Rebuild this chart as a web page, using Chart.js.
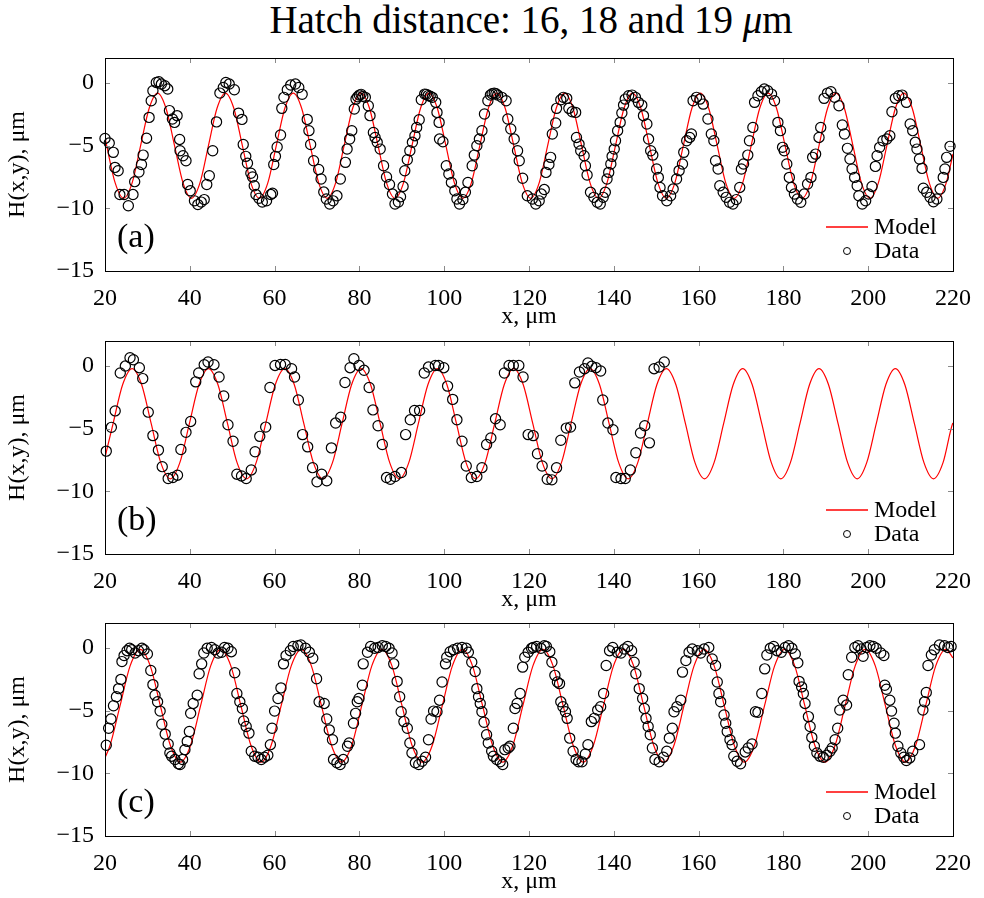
<!DOCTYPE html>
<html><head><meta charset="utf-8">
<script src="https://cdn.jsdelivr.net/npm/chart.js"></script>
<style>
html,body{margin:0;padding:0;background:#fff;}
body{width:984px;height:898px;position:relative;overflow:hidden;}
#title{position:absolute;left:0;width:1062px;top:1px;text-align:center;font-family:'Liberation Serif','Times New Roman',serif;font-size:39px;line-height:38px;color:#000;white-space:nowrap;}
canvas{position:absolute;left:0;}
</style></head><body>
<div id="title">Hatch distance: 16, 18 and 19 <i>μ</i>m</div>
<canvas id="ca" width="984" height="331" style="top:0px"></canvas>
<canvas id="cb" width="984" height="331" style="top:283px"></canvas>
<canvas id="cc" width="984" height="331" style="top:565px"></canvas>
<script>
// ---- axis ticks / labels ----
const xTickVals = [20, 40, 60, 80, 100, 120, 140, 160, 180, 200, 220];
const yTickVals = [0, -5, -10, -15];
const panelLabels = ['(a)', '(b)', '(c)'];
const seriesNames = ['Model', 'Data'];
const xTitle = 'x, μm';
const yTitle = 'H(x,y), μm';

// ---- Model curves ----
const modelAX = [20, 20.4, 22.4, 24.4, 26.4, 28.4, 30.4, 32.4, 34.4, 36.4, 38.4, 40.4, 42.4, 44.4, 46.4, 48.4, 50.4, 52.4, 54.4, 56.4, 58.4, 60.4, 62.4, 64.4, 66.4, 68.4, 70.4, 72.4, 74.4, 76.4, 78.4, 80.4, 82.4, 84.4, 86.4, 88.4, 90.4, 92.4, 94.4, 96.4, 98.4, 100.4, 102.4, 104.4, 106.4, 108.4, 110.4, 112.4, 114.4, 116.4, 118.4, 120.4, 122.4, 124.4, 126.4, 128.4, 130.4, 132.4, 134.4, 136.4, 138.4, 140.4, 142.4, 144.4, 146.4, 148.4, 150.4, 152.4, 154.4, 156.4, 158.4, 160.4, 162.4, 164.4, 166.4, 168.4, 170.4, 172.4, 174.4, 176.4, 178.4, 180.4, 182.4, 184.4, 186.4, 188.4, 190.4, 192.4, 194.4, 196.4, 198.4, 200.4, 202.4, 204.4, 206.4, 208.4, 210.4, 212.4, 214.4, 216.4, 218.4, 220];
const modelAY = [-4.34,
 -5, -7.97, -9.2, -7.97, -5, -2.03, -0.8, -2.03,
 -5, -7.97, -9.2, -7.97, -5, -2.03, -0.8, -2.03,
 -5, -7.97, -9.2, -7.97, -5, -2.03, -0.8, -2.03,
 -5, -7.97, -9.2, -7.97, -5, -2.03, -0.8, -2.03,
 -5, -7.97, -9.2, -7.97, -5, -2.03, -0.8, -2.03,
 -5, -7.97, -9.2, -7.97, -5, -2.03, -0.8, -2.03,
 -5, -7.97, -9.2, -7.97, -5, -2.03, -0.8, -2.03,
 -5, -7.97, -9.2, -7.97, -5, -2.03, -0.8, -2.03,
 -5, -7.97, -9.2, -7.97, -5, -2.03, -0.8, -2.03,
 -5, -7.97, -9.2, -7.97, -5, -2.03, -0.8, -2.03,
 -5, -7.97, -9.2, -7.97, -5, -2.03, -0.8, -2.03,
 -5, -7.97, -9.2, -7.97, -5, -2.03, -0.8, -2.03,
 -5, -7.97, -9.2, -7.97,
 -5.66];

const modelBX = [20, 21.9, 24.15, 26.4, 28.65, 30.9, 33.15, 35.4, 37.65, 39.9, 42.15, 44.4, 46.65, 48.9, 51.15, 53.4, 55.65, 57.9, 60.15, 62.4, 64.65, 66.9, 69.15, 71.4, 73.65, 75.9, 78.15, 80.4, 82.65, 84.9, 87.15, 89.4, 91.65, 93.9, 96.15, 98.4, 100.65, 102.9, 105.15, 107.4, 109.65, 111.9, 114.15, 116.4, 118.65, 120.9, 123.15, 125.4, 127.65, 129.9, 132.15, 134.4, 136.65, 138.9, 141.15, 143.4, 145.65, 147.9, 150.15, 152.4, 154.65, 156.9, 159.15, 161.4, 163.65, 165.9, 168.15, 170.4, 172.65, 174.9, 177.15, 179.4, 181.65, 183.9, 186.15, 188.4, 190.65, 192.9, 195.15, 197.4, 199.65, 201.9, 204.15, 206.4, 208.65, 210.9, 213.15, 215.4, 217.65, 219.9, 220];
const modelBY = [-7.3,
 -4.6, -1.49, -0.2, -1.49, -4.6, -7.71, -9.0, -7.71,
 -4.6, -1.49, -0.2, -1.49, -4.6, -7.71, -9.0, -7.71,
 -4.6, -1.49, -0.2, -1.49, -4.6, -7.71, -9.0, -7.71,
 -4.6, -1.49, -0.2, -1.49, -4.6, -7.71, -9.0, -7.71,
 -4.6, -1.49, -0.2, -1.49, -4.6, -7.71, -9.0, -7.71,
 -4.6, -1.49, -0.2, -1.49, -4.6, -7.71, -9.0, -7.71,
 -4.6, -1.49, -0.2, -1.49, -4.6, -7.71, -9.0, -7.71,
 -4.6, -1.49, -0.2, -1.49, -4.6, -7.71, -9.0, -7.71,
 -4.6, -1.49, -0.2, -1.49, -4.6, -7.71, -9.0, -7.71,
 -4.6, -1.49, -0.2, -1.49, -4.6, -7.71, -9.0, -7.71,
 -4.6, -1.49, -0.2, -1.49, -4.6, -7.71, -9.0, -7.71,
 -4.6,
 -4.55];

const modelCX = [20, 21.175, 23.55, 25.925, 28.3, 30.675, 33.05, 35.425, 37.8, 40.175, 42.55, 44.925, 47.3, 49.675, 52.05, 54.425, 56.8, 59.175, 61.55, 63.925, 66.3, 68.675, 71.05, 73.425, 75.8, 78.175, 80.55, 82.925, 85.3, 87.675, 90.05, 92.425, 94.8, 97.175, 99.55, 101.925, 104.3, 106.675, 109.05, 111.425, 113.8, 116.175, 118.55, 120.925, 123.3, 125.675, 128.05, 130.425, 132.8, 135.175, 137.55, 139.925, 142.3, 144.675, 147.05, 149.425, 151.8, 154.175, 156.55, 158.925, 161.3, 163.675, 166.05, 168.425, 170.8, 173.175, 175.55, 177.925, 180.3, 182.675, 185.05, 187.425, 189.8, 192.175, 194.55, 196.925, 199.3, 201.675, 204.05, 206.425, 208.8, 211.175, 213.55, 215.925, 218.3, 220];
const modelCY = [-8.75, -7.78,
 -4.6, -1.42, -0.1, -1.42, -4.6, -7.78, -9.1, -7.78,
 -4.6, -1.42, -0.1, -1.42, -4.6, -7.78, -9.1, -7.78,
 -4.6, -1.42, -0.1, -1.42, -4.6, -7.78, -9.1, -7.78,
 -4.6, -1.42, -0.1, -1.42, -4.6, -7.78, -9.1, -7.78,
 -4.6, -1.42, -0.1, -1.42, -4.6, -7.78, -9.1, -7.78,
 -4.6, -1.42, -0.1, -1.42, -4.6, -7.78, -9.1, -7.78,
 -4.6, -1.42, -0.1, -1.42, -4.6, -7.78, -9.1, -7.78,
 -4.6, -1.42, -0.1, -1.42, -4.6, -7.78, -9.1, -7.78,
 -4.6, -1.42, -0.1, -1.42, -4.6, -7.78, -9.1, -7.78,
 -4.6, -1.42, -0.1, -1.42, -4.6, -7.78, -9.1, -7.78,
 -4.6, -1.42, -0.1,
 -0.79];

// ---- Measured data (x, H) read from the circles ----
const dataA = [[20.0,-4.42],[21.0,-4.79],[21.96,-5.53],[22.35,-6.73],[23.1,-7.0],[23.5,-8.9],[24.5,-8.9],[25.5,-9.79],[26.6,-8.9],[27.0,-7.87],[28.0,-7.1],[28.6,-6.5],[29.0,-5.75],[29.8,-4.4],[30.4,-2.74],[30.9,-1.41],[31.3,-0.61],[32.1,0.05],[32.7,0.1],[33.3,-0.08],[34.1,-0.21],[34.8,-0.48],[35.2,-2.2],[35.9,-2.87],[36.4,-3.14],[37.0,-2.6],[37.6,-4.5],[37.7,-5.4],[38.4,-5.8],[39.1,-6.2],[39.5,-8.1],[40.1,-8.6],[41.1,-9.4],[41.9,-9.7],[42.7,-9.5],[43.4,-9.3],[44.0,-8.1],[44.6,-7.4],[45.4,-5.4],[46.3,-3.1],[47.1,-0.8],[47.9,-0.35],[48.5,0.05],[49.3,-0.08],[50.5,-0.53],[51.5,-2.4],[52.3,-2.9],[52.6,-4.9],[53.2,-5.85],[53.6,-6.4],[54.4,-7.2],[54.8,-7.5],[55.2,-8.2],[55.6,-8.9],[56.3,-9.2],[57.1,-9.5],[58.1,-9.4],[59.1,-8.9],[59.5,-8.8],[59.8,-6.5],[60.2,-5.85],[60.6,-5.1],[61.4,-4.15],[61.7,-2.02],[62.2,-1.14],[63.0,-0.53],[63.8,-0.16],[64.9,-0.08],[65.7,-0.35],[66.5,-0.9],[67.7,-2.9],[68.1,-3.8],[68.5,-4.9],[69.2,-6.2],
[70.4,-6.9],[70.96,-7.66],[71.6,-8.7],[72.2,-9.25],[73.0,-9.65],[73.8,-9.4],[74.7,-9.0],[75.5,-7.66],[76.7,-6.33],[77.1,-5.27],[77.7,-4.47],[78.2,-3.8],[78.8,-2.07],[79.2,-1.28],[79.6,-1.1],[80.0,-0.96],[80.4,-0.9],[80.8,-1.06],[81.4,-1.14],[82.1,-1.81],[82.5,-2.6],[83.3,-3.94],[83.7,-4.34],[84.2,-4.73],[84.9,-5.27],[85.7,-6.6],[86.4,-7.5],[87.1,-8.1],[87.8,-8.86],[88.4,-9.65],[89.2,-9.5],[89.7,-9.07],[90.3,-8.25],[90.7,-7.0],[91.3,-6.12],[91.9,-5.4],[92.5,-4.73],[93.1,-4.2],[93.5,-3.54],[94.1,-2.93],[94.6,-1.33],[95.4,-0.88],[95.8,-0.9],[96.2,-1.0],[96.7,-1.05],[97.2,-1.14],[98.0,-1.54],[98.3,-2.34],[98.8,-3.14],[98.9,-4.47],[99.7,-4.68],[100.5,-6.6],[101.1,-7.26],[101.7,-7.93],[102.5,-8.6],[103.0,-9.25],[103.6,-9.65],[104.4,-9.3],[105.0,-8.72],[105.6,-7.93],[106.6,-6.6],[107.1,-5.75],[107.7,-5.0],[108.3,-4.47],[108.9,-3.8],[109.5,-2.47],[110.3,-1.41],[110.9,-0.96],[111.3,-0.85],[111.8,-0.8],[112.2,-0.85],[112.6,-0.96],[113.6,-1.14],[114.6,-1.41],[115.0,-2.87],[115.7,-3.67],[116.5,-4.47],[117.3,-5.4],[117.7,-6.2],[118.5,-7.6],[119.6,-9.0],
[120.8,-9.25],[121.6,-9.65],[122.4,-9.4],[122.9,-8.86],[123.6,-8.5],[124.0,-7.13],[124.7,-6.5],[125.1,-5.93],[125.5,-4.07],[126.3,-3.19],[126.5,-2.02],[127.5,-1.33],[128.1,-1.14],[128.9,-1.22],[129.4,-2.02],[130.2,-2.29],[131.0,-2.34],[131.2,-4.34],[131.8,-4.87],[132.2,-5.4],[133.0,-5.8],[133.3,-6.6],[133.7,-7.34],[134.5,-8.72],[135.3,-9.12],[136.1,-9.52],[136.8,-9.65],[137.5,-9.12],[138.0,-8.72],[138.4,-7.66],[138.8,-7.13],[139.3,-6.46],[139.6,-5.85],[140.1,-5.27],[140.4,-4.6],[140.9,-3.8],[141.5,-3.14],[141.9,-2.39],[142.3,-1.76],[142.7,-1.28],[143.5,-1.01],[144.3,-0.96],[145.1,-1.14],[145.8,-1.54],[146.6,-1.76],[147.0,-2.6],[147.8,-3.27],[148.2,-4.47],[148.7,-5.4],[149.2,-5.75],[150.1,-6.86],[150.5,-7.53],[150.9,-8.33],[151.5,-8.99],[152.5,-9.39],[153.4,-8.99],[154.0,-8.46],[154.8,-7.66],[155.4,-6.99],[156.2,-6.46],[156.5,-5.53],[157.2,-4.6],[157.9,-4.34],[158.3,-4.07],[158.7,-1.41],[159.5,-1.14],[160.3,-1.28],[161.1,-1.68],[162.2,-2.87],[163.0,-4.07],[163.6,-4.6],[164.0,-6.2],[164.6,-6.86],[165.0,-8.2],[165.8,-8.72],[166.5,-9.12],[167.3,-9.52],[168.1,-9.65],[168.9,-9.3],[169.7,-8.33],[170.1,-6.86],[170.6,-6.46],
[171.6,-5.75],[172.0,-4.6],[172.8,-3.54],[173.2,-1.54],[174.0,-1.01],[174.8,-0.69],[175.5,-0.48],[176.3,-0.61],[177.2,-0.88],[177.9,-1.41],[178.7,-3.14],[179.3,-3.8],[179.8,-5.13],[180.2,-5.4],[180.8,-6.46],[181.4,-7.53],[181.9,-8.33],[182.6,-8.86],[183.3,-9.25],[184.1,-9.52],[184.9,-8.86],[185.7,-8.06],[186.5,-7.53],[186.9,-5.93],[187.6,-5.67],[188.4,-4.34],[188.8,-3.54],[189.6,-1.22],[190.4,-0.8],[191.2,-0.69],[192.1,-1.14],[193.1,-1.81],[193.9,-3.35],[194.4,-4.07],[195.1,-5.21],[195.7,-6.06],[196.2,-6.86],[196.8,-7.53],[197.4,-8.2],[197.8,-8.99],[198.6,-9.65],[199.4,-9.39],[200.1,-8.86],[200.9,-8.25],[201.7,-6.65],[202.1,-5.8],[202.7,-5.13],[203.5,-4.6],[204.4,-4.47],[205.1,-4.2],[205.6,-2.29],[206.4,-1.22],[207.2,-1.01],[208.0,-0.96],[209.0,-1.54],[209.9,-3.27],[210.5,-3.8],[211.1,-4.73],[211.5,-5.27],[212.1,-6.06],[212.7,-6.81],[213.0,-8.4],[213.8,-8.72],[214.6,-9.12],[215.4,-9.47],[216.2,-9.25],[216.97,-8.46],[217.7,-7.53],[218.1,-6.86],[218.5,-5.93],[219.3,-5.05]];

const dataB = [[20.3,-6.79],[21.5,-4.89],[22.4,-3.58],[23.6,-0.55],[24.8,0.0],[25.9,0.66],[26.7,0.5],[28.1,-0.13],[28.9,-1.0],[30.2,-3.68],[31.3,-5.55],[32.6,-6.71],[33.5,-8.03],[34.9,-8.98],[36.0,-8.9],[37.1,-8.71],[37.9,-6.66],[39.1,-5.29],[40.2,-4.42],[41.4,-1.26],[42.1,-0.55],[43.4,0.11],[44.3,0.32],[45.7,0.11],[46.9,-0.87],[48.0,-2.39],[49.0,-4.68],[50.2,-6.0],[51.1,-8.63],[52.2,-8.77],[53.3,-8.98],[54.5,-8.29],[55.4,-6.84],[56.5,-5.61],[57.9,-4.87],[58.9,-1.71],[60.1,0.05],[61.4,0.13],[62.5,0.13],
[64.0,-0.21],[64.7,-0.87],[65.6,-2.71],[66.6,-5.47],[67.8,-6.45],[68.96,-8.11],[70.0,-9.24],[71.1,-8.63],[72.3,-9.16],[73.4,-6.53],[74.4,-4.55],[75.6,-4.08],[76.6,-1.31],[77.8,-0.13],[78.7,0.58],[79.9,0.05],[81.1,-0.34],[82.3,-1.71],[83.2,-3.5],[84.4,-4.76],[85.4,-6.26],[86.4,-8.9],[87.3,-9.03],[88.4,-8.82],[89.9,-8.5],[90.9,-5.47],[92.0,-4.29],[93.0,-3.55],[94.2,-3.55],[95.3,-0.55],[96.3,-0.08],[97.9,0.05],[98.7,0.05],[99.9,-0.13],[100.8,-1.6],[102.0,-2.66],[103.0,-4.29],[104.2,-6.0],[105.2,-7.98],[106.4,-8.9],
[107.7,-8.82],[108.9,-8.11],[110.0,-6.26],[111.0,-5.74],[112.1,-4.21],[113.2,-4.68],[114.2,-0.55],[115.3,0.05],[116.3,0.05],[117.6,0.05],[118.6,-0.87],[119.8,-5.47],[121.0,-5.55],[122.0,-7.0],[123.1,-7.98],[124.3,-9.03],[125.4,-9.08],[126.5,-8.11],[127.5,-5.92],[128.8,-4.95],[129.8,-4.87],[130.8,-1.34],[131.9,-0.47],[133.1,-0.21],[133.9,0.24],[134.8,-0.02],[135.8,-0.13],[136.9,-0.39],[137.4,-2.71],[138.6,-4.55],[139.8,-5.08],[140.5,-8.9],[141.7,-8.98],[142.7,-8.98],[143.9,-8.29],[145.2,-6.92],[146.3,-5.34],[147.3,-4.76],[148.4,-6.13],[149.5,-0.21],[150.7,-0.08],[151.9,0.32]];

const dataC = [[20.3,-7.76],[20.86,-6.4],[21.4,-5.66],[22.0,-4.6],[22.7,-3.89],[23.2,-3.24],[23.75,-2.5],[24.0,-1.08],[24.5,-0.6],[25.2,-0.21],[25.8,-0.02],[26.3,-0.13],[27.1,-0.39],[27.9,-0.21],[28.7,-0.02],[29.2,-0.13],[30.0,-0.47],[30.8,-1.79],[31.3,-2.92],[31.8,-3.76],[32.4,-4.29],[33.0,-5.03],[33.4,-6.08],[34.2,-6.87],[34.9,-7.66],[35.3,-8.37],[35.7,-8.63],[36.5,-8.9],[37.3,-9.24],[37.7,-9.29],[38.3,-8.9],[38.85,-8.11],[39.4,-7.45],[39.9,-6.66],[40.2,-5.21],[40.8,-4.42],[41.75,-3.76],[42.2,-2.05],[42.8,-1.26],[43.3,-0.39],[44.1,-0.02],[45.1,0.05],[45.9,-0.13],[46.7,-0.39],[47.5,-0.34],[48.2,0.05],[49.0,-0.02],[49.8,-0.29],[50.6,-1.97],[51.1,-3.63],[51.8,-4.29],[52.4,-4.82],[52.7,-5.82],[53.3,-6.26],[53.95,-6.79],[54.5,-8.24],[55.3,-8.63],[56.1,-8.71],[56.85,-8.9],[57.6,-8.71],[58.4,-8.55],[59.0,-7.71],[59.4,-6.4],[60.0,-5.03],[60.8,-4.03],[61.5,-3.18],[62.1,-1.26],[62.7,-0.6],[63.7,-0.21],[64.4,0.13],[65.5,0.19],[66.2,0.24],[67.3,-0.02],[68.2,-0.34],[69.0,-0.81],[69.9,-2.45],[70.5,-4.29],
[71.7,-4.42],[72.3,-5.66],[72.9,-6.53],[73.65,-7.32],[73.9,-8.9],[74.7,-9.16],[75.45,-9.29],[76.2,-8.9],[77.2,-7.84],[77.6,-7.58],[78.6,-6.0],[79.1,-5.21],[79.5,-4.29],[79.9,-4.03],[80.7,-2.97],[80.9,-1.26],[81.9,-0.34],[82.65,0.13],[83.6,-0.02],[84.4,0.05],[85.4,0.19],[86.2,0.13],[87.0,-0.02],[87.7,-0.39],[88.1,-1.26],[88.9,-2.66],[89.5,-3.89],[89.85,-5.08],[90.5,-5.87],[91.3,-6.4],[91.9,-7.58],[92.4,-8.37],[93.2,-9.16],[94.0,-9.29],[94.8,-9.03],[95.6,-8.71],[96.3,-7.32],[96.9,-5.66],[97.5,-5.03],[98.3,-5.08],[98.9,-4.16],[99.5,-2.71],[100.3,-1.26],[100.6,-0.73],[101.4,-0.29],[102.2,-0.13],[103.15,-0.02],[104.2,0.05],[105.2,-0.02],[105.7,-0.34],[106.5,-1.13],[107.3,-1.87],[107.7,-3.24],[108.1,-3.89],[108.5,-4.42],[108.9,-5.08],[109.4,-5.92],[110.0,-6.92],[110.4,-7.58],[111.2,-8.24],[111.6,-8.63],[112.4,-8.9],[113.2,-9.08],[113.8,-9.29],[114.3,-8.11],[115.1,-7.98],[115.5,-7.84],[116.3,-6.4],[116.7,-4.82],[117.2,-4.42],[117.9,-3.63],[118.5,-1.52],[119.0,-0.73],[119.8,-0.34],[120.6,-0.02],
[121.0,0.05],[121.8,0.13],[122.8,-0.02],[123.6,0.19],[124.1,0.13],[124.9,-0.29],[125.4,-1.13],[126.1,-2.18],[126.7,-2.71],[127.2,-2.84],[127.5,-4.29],[128.0,-4.68],[128.6,-5.08],[129.0,-5.61],[129.6,-7.19],[130.4,-8.24],[131.1,-8.9],[131.7,-9.08],[132.5,-9.08],[133.3,-8.45],[133.9,-7.71],[134.7,-5.87],[135.4,-5.61],[136.2,-4.95],[136.9,-4.68],[137.6,-3.63],[138.2,-1.39],[139.0,-0.21],[139.75,0.05],[140.8,-0.34],[141.7,-0.39],[142.5,-0.08],[143.3,0.13],[144.2,-0.21],[144.8,-1.13],[145.2,-2.05],[146.0,-3.24],[146.8,-4.03],[147.2,-4.82],[147.6,-5.61],[148.1,-6.26],[148.6,-6.92],[149.1,-7.98],[149.7,-8.9],[150.7,-9.08],[151.7,-8.71],[152.5,-8.24],[153.1,-7.19],[153.8,-6.4],[154.2,-5.08],[154.9,-4.68],[155.8,-4.16],[156.2,-1.92],[157.0,-1.0],[157.75,-0.34],[158.5,-0.08],[159.7,-0.21],[160.5,-0.39],[161.3,-0.08],[162.4,0.05],[163.2,-0.87],[164.0,-1.39],[164.4,-2.71],[164.8,-3.63],[165.2,-4.29],[166.0,-5.34],[166.4,-6.0],[166.75,-6.66],[167.4,-7.32],[167.9,-7.71],[168.3,-8.63],[169.1,-9.03],[169.9,-9.24],
[171.0,-8.29],[171.7,-7.98],[172.6,-7.66],[173.4,-5.08],[174.0,-5.13],[174.9,-3.63],[175.6,-1.66],[176.1,-0.55],[176.9,-0.02],[177.7,0.13],[178.5,-0.21],[179.5,-0.34],[180.4,0.05],[181.2,0.19],[182.0,-0.02],[182.8,-0.47],[183.4,-1.18],[183.7,-2.66],[184.3,-3.1],[184.7,-3.63],[185.1,-4.42],[185.9,-5.47],[186.3,-6.26],[186.7,-7.13],[187.3,-7.84],[187.9,-8.37],[188.6,-8.63],[189.4,-8.71],[190.2,-8.55],[191.0,-8.24],[191.5,-7.98],[192.2,-7.32],[192.8,-6.4],[193.3,-4.95],[194.1,-4.16],[194.9,-4.55],[195.3,-2.13],[196.1,-0.73],[196.85,0.05],[197.6,0.19],[198.3,-0.08],[198.8,-0.66],[199.6,0.05],[200.4,0.19],[201.2,0.13],[201.9,-0.02],[202.95,-0.39],[203.7,-0.6],[203.9,-2.97],[204.3,-3.29],[205.1,-4.16],[205.5,-5.03],[206.1,-6.0],[206.4,-6.79],[207.0,-7.84],[207.7,-8.37],[208.4,-8.71],[209.0,-8.98],[209.8,-8.77],[210.5,-8.24],[212.1,-7.71],[212.9,-4.95],[213.3,-4.29],[213.7,-3.55],[214.1,-1.39],[214.9,-0.55],[215.6,-0.13],[216.8,0.24],[218.0,0.19],[218.8,0.05],[219.55,0.13]];

// ---- rendering ----
const FONT = "'Liberation Serif', 'Times New Roman', serif";
const toXY = (xs, ys) => xs.map((x, i) => ({x: x, y: ys[i]}));
const fromPairs = p => p.map(([x, y]) => ({x: x, y: y}));
const fmt = v => (v < 0 ? '\u2212' + Math.abs(v) : String(v));

const decor = {
  id: 'decor',
  afterDraw(chart, args, opts) {
    const {ctx, chartArea: a, scales: {x, y}} = chart;
    ctx.save();
    ctx.lineWidth = 1;
    ctx.strokeStyle = '#8a8a8a';
    ctx.beginPath();
    const L = 5;
    xTickVals.forEach(v => {
      const px = Math.round(x.getPixelForValue(v)) + 0.5;
      ctx.moveTo(px, a.top); ctx.lineTo(px, a.top + L);
      ctx.moveTo(px, a.bottom); ctx.lineTo(px, a.bottom - L);
    });
    yTickVals.forEach(v => {
      const py = Math.round(y.getPixelForValue(v)) + 0.5;
      ctx.moveTo(a.left, py); ctx.lineTo(a.left + L, py);
      ctx.moveTo(a.right, py); ctx.lineTo(a.right - L, py);
    });
    ctx.stroke();
    ctx.strokeStyle = '#000';
    ctx.strokeRect(Math.round(a.left) + 0.5, Math.round(a.top) + 0.5, Math.round(a.right - a.left), Math.round(a.bottom - a.top));
    // legend
    const ly1 = a.bottom - 44, ly2 = a.bottom - 20;
    ctx.strokeStyle = '#ff0000';
    ctx.lineWidth = 1.5;
    ctx.beginPath(); ctx.moveTo(a.right - 127, ly1); ctx.lineTo(a.right - 85, ly1); ctx.stroke();
    ctx.strokeStyle = '#000';
    ctx.lineWidth = 1;
    ctx.beginPath(); ctx.arc(a.right - 106, ly2, 3.5, 0, Math.PI * 2); ctx.stroke();
    ctx.fillStyle = '#000';
    ctx.font = '24px ' + FONT;
    ctx.textAlign = 'left';
    ctx.textBaseline = 'middle';
    ctx.fillText(seriesNames[0], a.right - 79, ly1 + 1);
    ctx.fillText(seriesNames[1], a.right - 79, ly2 + 1);
    ctx.font = '34px ' + FONT;
    ctx.fillText(opts.label, a.left + 12, a.bottom - 33);
    ctx.restore();
  }
};

function makeChart(id, modelX, modelY, data, label) {
  return new Chart(document.getElementById(id), {
    type: 'scatter',
    data: {
      datasets: [
        {label: seriesNames[1], data: fromPairs(data), showLine: false, pointStyle: 'circle', pointRadius: 5.1,
         pointBorderWidth: 1.2, borderColor: '#000', pointBorderColor: '#000', pointBackgroundColor: 'rgba(0,0,0,0)',
         backgroundColor: 'rgba(0,0,0,0)', clip: false, order: 0},
        {label: seriesNames[0], type: 'line', data: toXY(modelX, modelY), showLine: true, borderColor: '#ff0000',
         borderWidth: 1.2, pointRadius: 0, cubicInterpolationMode: 'monotone', fill: false, order: 1}
      ]
    },
    options: {
      responsive: false, animation: false, devicePixelRatio: 1,
      layout: {padding: {top: 58, right: 27, left: 0, bottom: 0}},
      plugins: {legend: {display: false}, tooltip: {enabled: false}, decor: {label: label}},
      scales: {
        x: {
          type: 'linear', min: 20, max: 220,
          grid: {display: false, drawTicks: false}, border: {display: false},
          afterBuildTicks: s => { s.ticks = xTickVals.map(v => ({value: v})); },
          afterFit: s => { s.height = 60; },
          ticks: {color: '#000', font: {family: FONT, size: 24}, padding: 13, maxRotation: 0, autoSkip: false, callback: v => fmt(v)},
          title: {display: true, text: xTitle, color: '#000', font: {family: FONT, size: 24}, padding: {top: 0, bottom: 0}}
        },
        y: {
          type: 'linear', min: -15, max: 2,
          grid: {display: false, drawTicks: false}, border: {display: false},
          afterBuildTicks: s => { s.ticks = yTickVals.map(v => ({value: v})); },
          afterFit: s => { s.width = 105; },
          ticks: {color: '#000', font: {family: FONT, size: 24}, padding: 11, autoSkip: false, callback: v => fmt(v)},
          title: {display: true, text: yTitle, color: '#000', font: {family: FONT, size: 24}, padding: {top: 3, bottom: 0}}
        }
      }
    },
    plugins: [decor]
  });
}

makeChart('ca', modelAX, modelAY, dataA, panelLabels[0]);
makeChart('cb', modelBX, modelBY, dataB, panelLabels[1]);
makeChart('cc', modelCX, modelCY, dataC, panelLabels[2]);
</script>
</body></html>
